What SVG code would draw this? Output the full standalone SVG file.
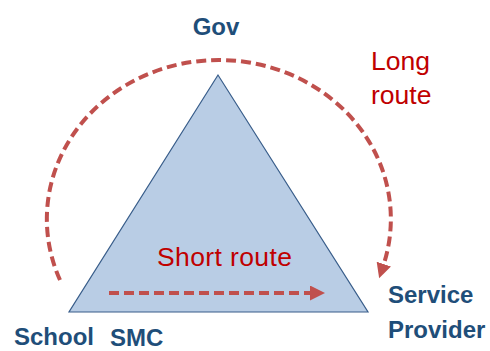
<svg xmlns="http://www.w3.org/2000/svg" width="490" height="351" viewBox="0 0 490 351">
<style>
.lbl{font-family:"Liberation Sans",Arial,sans-serif;font-weight:bold;font-size:24px;fill:#1F4E79}
.red{font-family:"Liberation Sans",Arial,sans-serif;font-size:26.5px;fill:#C00000}
.route{fill:none;stroke:#C0504D;stroke-width:4;stroke-dasharray:10 5}
</style>
<defs>
<marker id="ah" markerUnits="userSpaceOnUse" markerWidth="16" markerHeight="16" refX="1" refY="7.5" orient="auto" viewBox="0 0 16 16">
<path d="M0,0 L15,7.5 L0,15 z" fill="#C0504D"/>
</marker>
</defs>
<g id="triangle">
<polygon points="218,75 69,312 368,312" fill="#B9CDE5" stroke="#385D8A" stroke-width="1.2"/>
</g>
<g id="connectors">
<path class="route" d="M60,280 A172,159 0 1 1 383.5,265" marker-end="url(#ah)"/>
<path class="route" d="M109,293 L311,293" marker-end="url(#ah)"/>
</g>
<g id="gov"><text class="lbl" x="216" y="35" text-anchor="middle">Gov</text></g>
<g id="school"><text class="lbl" x="14" y="345">School</text></g>
<g id="smc"><text class="lbl" x="110" y="346">SMC</text></g>
<g id="provider"><text class="lbl" x="388" y="303">Service</text><text class="lbl" x="388" y="338">Provider</text></g>
<g id="long-route"><text class="red" x="371" y="70">Long</text><text class="red" x="371" y="104">route</text></g>
<g id="short-route"><text class="red" x="157" y="266" textLength="135">Short route</text></g>
</svg>
